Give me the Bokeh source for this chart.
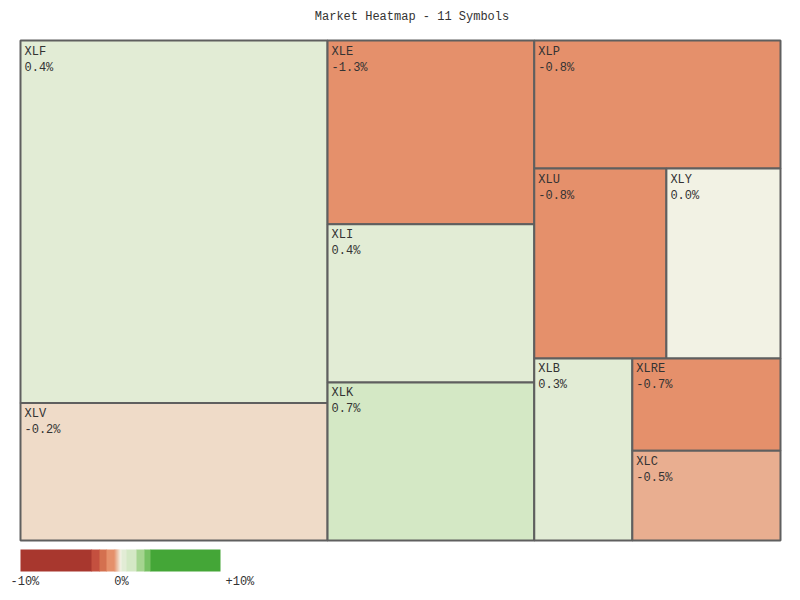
import numpy as np
from bokeh.plotting import figure
from bokeh.models import Range1d, ColumnDataSource
from bokeh.core.properties import value
from bokeh.embed import file_html
from bokeh.resources import INLINE

# ---------------- data ----------------
symbols = ["XLF", "XLV", "XLE", "XLI", "XLK", "XLP", "XLU", "XLY", "XLB", "XLRE", "XLC"]
weights = [29.3, 11.1, 10.0, 8.6, 8.6, 8.3, 6.6, 5.7, 4.7, 3.6, 3.5]
changes = [0.4, -0.2, -1.3, 0.4, 0.7, -0.8, -0.8, 0.0, 0.3, -0.7, -0.5]
legend_min, legend_max = -10, 10
legend_ticks = [-10, 0, 10]
legend_tick_labels = ["-10%", "0%", "+10%"]

FONT = "Liberation Mono"
TEXT_COLOR = "#333333"
BORDER = "#5f5f5f"


def hex_to_rgb(h):
    h = h.lstrip("#")
    return tuple(int(h[i:i + 2], 16) for i in (0, 2, 4))


def mix(c1, c2, t):
    t = max(0.0, min(1.0, t))
    a, b = hex_to_rgb(c1), hex_to_rgb(c2)
    return "#%02x%02x%02x" % tuple(int(round(a[i] + (b[i] - a[i]) * t)) for i in range(3))


NEUTRAL = "#f2f2e4"


def color_for(v):
    if v <= -3:
        return "#a8372e"
    if v <= -2.2:
        return "#c4503f"
    if v <= -1.5:
        return "#d4704f"
    if v <= -0.7:
        return "#e5906b"
    if v < 0:
        return mix("#e5906b", NEUTRAL, (v + 0.7) / 0.65)
    if v == 0:
        return NEUTRAL
    if v <= 0.5:
        return "#e2ecd5"
    if v <= 1.5:
        return "#d4e8c5"
    if v <= 2.3:
        return "#a5d490"
    if v < 3:
        return "#76c063"
    return "#44a637"


# ---------------- squarified layout ----------------
def worst(row, side):
    s = sum(row)
    thick = s / side
    r = 0
    for a in row:
        length = a / thick
        r = max(r, thick / length, length / thick)
    return r


def squarify(vals, x, y, w, h):
    total = float(sum(vals))
    areas = [v * w * h / total for v in vals]
    rects = []
    i, n = 0, len(areas)
    prev = None
    while i < n:
        ratio = max(w, h) / min(w, h)
        if prev is not None and ratio < 1.15:
            vertical = prev
        else:
            vertical = w >= h
        side = h if vertical else w
        row = [areas[i]]
        j = i + 1
        while j < n and worst(row + [areas[j]], side) <= worst(row, side):
            row.append(areas[j])
            j += 1
        thick = sum(row) / side
        if vertical:
            yy = y
            for a in row:
                L = a / thick
                rects.append((x, x + thick, yy, yy + L))
                yy += L
            x += thick
            w -= thick
        else:
            xx = x
            for a in row:
                L = a / thick
                rects.append((xx, xx + L, y, y + thick))
                xx += L
            y += thick
            h -= thick
        i = j
        prev = vertical
    return rects


AX0, AY0, AW, AH = 20, 40, 760, 500
rects = squarify(weights, AX0, AY0, AW, AH)

src = ColumnDataSource(dict(
    left=[r[0] for r in rects], right=[r[1] for r in rects],
    top=[r[2] for r in rects], bottom=[r[3] for r in rects],
    color=[color_for(c) for c in changes],
    sym=symbols,
    chg=["%.1f%%" % c for c in changes],
    tx=[r[0] + 4 for r in rects],
    ty1=[r[2] + 4 for r in rects],
    ty2=[r[2] + 20 for r in rects],
))

p = figure(width=800, height=600, x_range=Range1d(0, 800), y_range=Range1d(600, 0),
           output_backend="svg", toolbar_location=None, min_border=0)
p.axis.visible = False
p.grid.visible = False
p.outline_line_color = None
p.background_fill_color = "white"
p.border_fill_color = "white"

p.quad(left="left", right="right", top="top", bottom="bottom", source=src,
       fill_color="color", line_color=BORDER, line_width=2)
p.text(x="tx", y="ty1", text="sym", source=src, text_font=value(FONT),
       text_font_size="12px", text_color=TEXT_COLOR, text_baseline="top", text_align="left")
p.text(x="tx", y="ty2", text="chg", source=src, text_font=value(FONT),
       text_font_size="12px", text_color=TEXT_COLOR, text_baseline="top", text_align="left")

# title
p.text(x=[411.5], y=[16], text=["Market Heatmap - %d Symbols" % len(symbols)],
       text_font=value(FONT), text_font_size="12px", text_color=TEXT_COLOR,
       text_baseline="middle", text_align="center")

# legend bar: merge equal-coloured steps into single segments
LX0, LW, LY0, LH = 20, 200, 549, 22
step = 0.1
lv = np.round(np.arange(legend_min, legend_max, step), 1)
scale = LW / (legend_max - legend_min)
segs = []
for v in lv:
    c = color_for(v)
    l = LX0 + (v - legend_min) * scale
    r = LX0 + (v + step - legend_min) * scale
    if segs and segs[-1][2] == c:
        segs[-1][1] = r
    else:
        segs.append([l, r, c])
p.quad(left=[s[0] for s in segs],
       right=[min(s[1] + 0.6, LX0 + LW) for s in segs],
       top=[LY0] * len(segs), bottom=[LY0 + LH] * len(segs),
       fill_color=[s[2] for s in segs], fill_alpha=1.0, line_color=None)

tick_x = [LX0 + (t - legend_min) * scale for t in legend_ticks]
offsets = [-10, 0, 5]
aligns = ["left", "center", "left"]
for tx, lab, off, al in zip(tick_x, legend_tick_labels, offsets, aligns):
    p.text(x=[tx + off + (1 if al == "center" else 0)], y=[574], text=[lab], text_font=value(FONT),
           text_font_size="12px", text_color=TEXT_COLOR, text_baseline="top", text_align=al)

open("out.html", "w").write(file_html(p, INLINE))
